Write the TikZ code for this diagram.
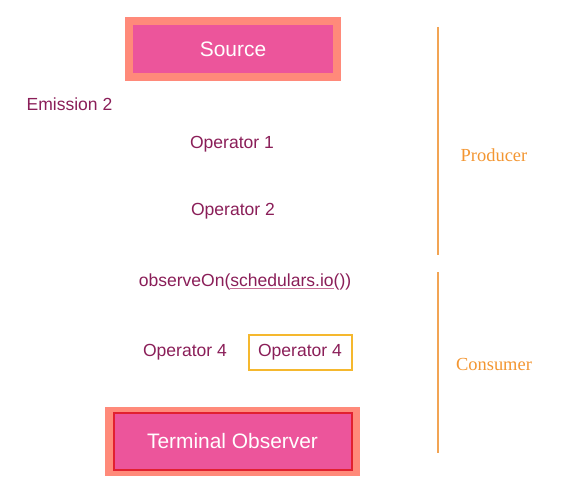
\documentclass[tikz,border=0pt]{standalone}
\usepackage{fontspec}
\setmainfont{Liberation Sans}
\newfontfamily\serifbook{Liberation Serif}
\definecolor{txt}{RGB}{138,30,88}
\definecolor{pinkfill}{RGB}{236,85,155}
\definecolor{salmon}{RGB}{255,138,122}
\definecolor{termred}{RGB}{226,32,48}
\definecolor{gold}{RGB}{245,184,46}
\definecolor{orangeline}{RGB}{242,164,84}
\definecolor{orangetxt}{RGB}{243,150,50}
\definecolor{ulc}{RGB}{200,110,150}
\newcommand\ulpink[1]{\setbox0\hbox{#1}\rlap{\color{ulc}\rule[-2.6pt]{\wd0}{1pt}}\box0}
\tikzset{
  optext/.style={text=txt, font=\fontsize{17.6}{20}\selectfont, inner sep=0pt},
  bigbox/.style={fill=pinkfill, text=white, font=\fontsize{21}{24}\selectfont, inner sep=0pt},
  sidelabel/.style={text=orangetxt, font=\serifbook\fontsize{18.5}{22}\selectfont, inner sep=0pt},
  sideline/.style={draw=orangeline, line width=1.5bp},
}
\begin{document}
\begin{tikzpicture}[x=1bp,y=-1bp]
\useasboundingbox (0,0) rectangle (563,488);
% Source
\node (source) [bigbox, draw=salmon, line width=8bp, minimum width=208bp, minimum height=56bp] at (233,49) {Source};
% labels
\node (emission) [optext] at (69.5,104) {Emission 2};
\node (op1) [optext] at (232,144) {Operator 1};
\node (op2) [optext] at (233,211) {Operator 2};
\node (obs) [optext] at (245,282) {observeOn(\ulpink{schedulars.io}())};
\node (op4a) [optext] at (185,352.5) {Operator 4};
\node (op4b) [optext, draw=gold, line width=2bp, minimum width=103bp, minimum height=35bp] at (300,352) {Operator 4};
% Terminal observer
\node (tframe) [fill=salmon, minimum width=255bp, minimum height=69bp, inner sep=0pt] at (232.5,441.5) {};
\node (term) [bigbox, draw=termred, line width=2bp, minimum width=238bp, minimum height=57bp] at (tframe.center) {Terminal Observer};
% side lines
\coordinate (p1) at (438,27);
\coordinate (p2) at (438,255);
\coordinate (c1) at (438,272);
\coordinate (c2) at (438,453);
\draw[sideline] (p1) -- (p2);
\draw[sideline] (c1) -- (c2);
\node (producer) [sidelabel] at (494,155) {Producer};
\node (consumer) [sidelabel] at (494,364) {Consumer};
\end{tikzpicture}
\end{document}
